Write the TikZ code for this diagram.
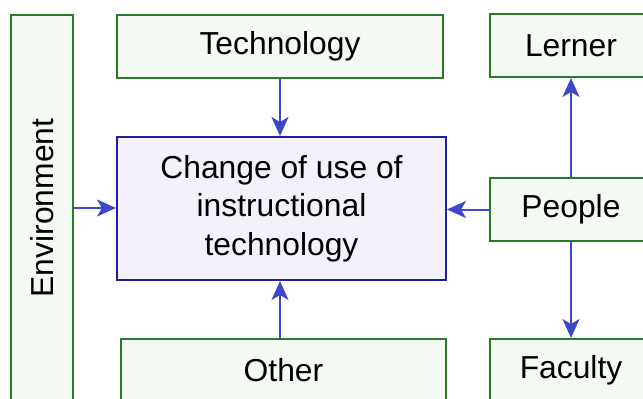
\documentclass[tikz,border=0pt]{standalone}
\usepackage{fontspec}
\setmainfont{Liberation Sans}
\usetikzlibrary{arrows.meta}
\definecolor{boxgreen}{HTML}{2A7A2A}
\definecolor{fillgreen}{HTML}{F4FAF3}
\definecolor{boxblue}{HTML}{1E1E9A}
\definecolor{fillblue}{HTML}{F5F1FA}
\definecolor{arrowblue}{HTML}{3D47C9}
\tikzset{
  factor/.style={draw=boxgreen, fill=fillgreen, line width=2pt, minimum height=63pt, inner sep=0pt, font=\fontsize{31.8}{38}\selectfont},
  target/.style={draw=boxblue, fill=fillblue, line width=2pt, minimum width=329pt, minimum height=143pt, inner sep=0pt, align=center, font=\fontsize{31.8}{38.5}\selectfont},
  flow/.style={draw=arrowblue, line width=2pt, -{Stealth[length=19pt, width=17pt, inset=5pt]}}
}
\begin{document}
\begin{tikzpicture}[x=1pt, y=-1pt]
\clip (0,0) rectangle (643,399);
\useasboundingbox (0,0) rectangle (643,399);
% Boxes
\node[target] (change) at (281.5, 208.5) {Change of use of\\instructional\\technology};
\node[factor, minimum width=326pt] (tech) at (280, 46) {Technology};
\node[factor, minimum width=325pt] (other) at (283.5, 370.5) {Other};
\node[factor, minimum width=162pt] (lerner) at (571, 45.5) {Lerner};
\node[factor, minimum width=162pt] (people) at (571, 209.5) {People};
\node[factor, minimum width=162pt] (faculty) at (571, 370.5) {Faculty};
\node[factor, rotate=90, minimum width=386pt, minimum height=62pt] (env) at (42, 208) {Environment};
% Arrows
\draw[flow] (tech.south) -- (tech.south |- change.north);
\draw[flow] (other.north -| tech.south) -- (change.south -| tech.south);
\draw[flow] (env.south) -- (env.south -| change.west);
\draw[flow] (people.west) -- (people.west -| change.east);
\draw[flow] (people.north) -- (lerner.south);
\draw[flow] (people.south) -- (faculty.north);
\end{tikzpicture}
\end{document}
